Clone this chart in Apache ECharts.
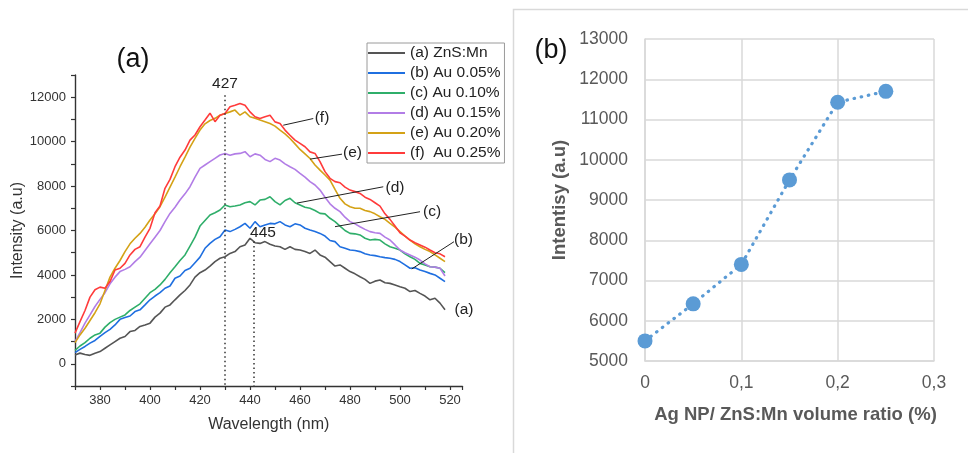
<!DOCTYPE html>
<html><head><meta charset="utf-8">
<script src="https://cdn.jsdelivr.net/npm/echarts@6/dist/echarts.min.js"></script>
<style>html,body{margin:0;padding:0;background:#fff}#c{width:968px;height:453px}</style>
</head><body><div id="c"></div>
<script>
// ---------- Panel (a): PL spectra ----------
const wavelength = [
  370,372,374,376,378,380,382,384,386,388,
  390,392,394,396,398,400,402,404,406,408,
  410,412,414,416,418,420,422,424,426,428,
  430,432,434,436,438,440,442,444,446,448,
  450,452,454,456,458,460,462,464,466,468,
  470,472,474,476,478,480,482,484,486,488,
  490,492,494,496,498,500,502,504,506,508,
  510,512,514,516,518];
const seriesNames = ['(a) ZnS:Mn','(b) Au 0.05%','(c) Au 0.10%','(d) Au 0.15%','(e) Au 0.20%','(f)  Au 0.25%'];
const intensityA = [
  400,480,420,380,470,550,700,850,1000,1150,
  1230,1450,1500,1680,1750,1830,2100,2280,2550,2650,
  2880,3100,3300,3550,3900,4100,4220,4400,4600,4750,
  4820,4970,5050,5270,5350,5650,5450,5420,5500,5380,
  5300,5270,5150,5270,5150,5120,5050,4970,5120,4900,
  4800,4600,4400,4450,4300,4150,4050,3920,3800,3620,
  3720,3770,3650,3620,3550,3470,3400,3250,3300,3170,
  3050,2880,2950,2730,2430];
const intensityB = [
  500,650,780,930,1050,1230,1400,1550,1750,2000,
  2080,2150,2350,2430,2650,2880,3050,3200,3400,3500,
  3850,3950,4200,4300,4550,4800,5200,5420,5600,5720,
  6020,5950,6050,6170,6320,6100,6400,6170,6250,6320,
  6300,6400,6250,6170,6300,6250,6100,6020,5950,5870,
  5750,5550,5500,5270,5200,5120,5100,5050,4950,4900,
  4870,4820,4780,4750,4700,4600,4450,4300,4320,4220,
  4150,4070,4000,3850,3700];
const intensityC = [
  600,800,950,1150,1300,1380,1650,1850,2000,2100,
  2200,2400,2550,2700,2950,3200,3350,3550,3800,4100,
  4370,4650,4900,5300,5700,6200,6450,6700,6800,6920,
  7150,7070,7100,7150,7250,7300,7150,7370,7400,7520,
  7300,7150,7350,7450,7250,7150,7050,7000,6900,6770,
  6750,6550,6400,6200,6000,5870,5850,5800,5650,5570,
  5600,5570,5400,5270,5200,5120,4950,4820,4700,4520,
  4450,4370,4350,4300,4100];
const intensityD = [
  1000,1400,1830,2200,2580,2900,3200,3600,3900,4150,
  4250,4370,4600,4800,5100,5400,5700,6000,6400,6770,
  7050,7370,7650,7970,8400,8800,8950,9100,9250,9400,
  9470,9390,9450,9470,9550,9320,9450,9390,9200,9100,
  9250,9170,9000,8870,8750,8570,8400,8200,8050,7820,
  7500,7200,7000,6850,6600,6400,6300,6170,6050,5950,
  5900,5870,5700,5570,5350,5120,5000,4900,4800,4670,
  4500,4370,4350,4300,3950];
const intensityE = [
  950,1300,1600,1950,2300,2700,3300,3900,4300,4650,
  5050,5400,5650,5870,6150,6470,6750,7070,7500,7950,
  8400,8870,9300,9750,10150,10520,10800,10950,11050,11190,
  11270,11340,11420,11190,11340,11120,11050,10970,10900,10820,
  10700,10520,10350,10140,9900,9650,9450,9240,8950,8720,
  8500,8270,7850,7450,7200,7070,7000,7000,6900,6850,
  6750,6620,6500,6320,6150,5950,5750,5570,5400,5270,
  5150,5050,4900,4750,4600];
const intensityF = [
  1380,1900,2400,3000,3330,3450,3400,3700,4220,4300,
  4520,4900,5150,5270,5700,6100,6800,7100,7900,8300,
  8870,9300,9620,10070,10300,10670,10970,11280,10900,11190,
  11270,11570,11640,11720,11640,11340,11120,11040,11120,11190,
  10890,10820,10520,10290,10070,9920,9770,9540,9470,9100,
  8650,8350,8200,8150,7950,7820,7750,7670,7500,7400,
  7250,7100,6750,6500,6200,5900,5750,5570,5450,5350,
  5250,5120,5000,4950,4820];
const seriesColors = ['#555555','#1f6fe0','#2fae6a','#b27de6','#d4a216','#ff3b3b'];

// ---------- Panel (b): peak intensity ----------
const volumeRatio = [0, 0.05, 0.1, 0.15, 0.2, 0.25];
const peakIntensity = [5500, 6420, 7400, 9500, 11430, 11700];

const FONT = '"Liberation Sans", Arial, sans-serif';
const allA = [intensityA, intensityB, intensityC, intensityD, intensityE, intensityF];

const chart = echarts.init(document.getElementById('c'), null, {renderer: 'canvas'});

const lineSeries = allA.map((arr, k) => ({
  name: seriesNames[k],
  type: 'line',
  xAxisIndex: 0, yAxisIndex: 0,
  data: wavelength.map((w, i) => [w, arr[i]]),
  symbol: 'none',
  lineStyle: {color: seriesColors[k], width: 1.6},
  itemStyle: {color: seriesColors[k]},
  animation: false,
  z: 2 + k
}));

chart.setOption({
  animation: false,
  backgroundColor: '#ffffff',
  textStyle: {fontFamily: FONT},
  grid: [
    {left: 75, top: 75, width: 387.5, height: 311},
    {left: 645, top: 39, width: 289, height: 322}
  ],
  xAxis: [
    {
      type: 'value', gridIndex: 0, min: 370, max: 525, interval: 10,
      axisLine: {show: true, onZero: false, lineStyle: {color: '#333', width: 1.4}},
      axisTick: {show: true, inside: false, length: 4, lineStyle: {color: '#333', width: 1.2}},
      axisLabel: {color: '#333', fontSize: 13, fontFamily: FONT, margin: 8,
        formatter: v => (v % 20 === 0 ? String(v) : '')},
      splitLine: {show: false},
      name: 'Wavelength (nm)', nameLocation: 'middle', nameGap: 31,
      nameTextStyle: {color: '#333', fontSize: 16, fontFamily: FONT}
    },
    {
      type: 'value', gridIndex: 1, min: 0, max: 0.3, interval: 0.1,
      axisLine: {show: true, onZero: false, lineStyle: {color: '#d9d9d9', width: 1.5}},
      axisTick: {show: false},
      axisLabel: {color: '#595959', fontSize: 17.5, fontFamily: FONT, margin: 13,
        formatter: v => (v === 0 ? '0' : v.toFixed(1).replace('.', ','))},
      splitLine: {show: true, lineStyle: {color: '#d9d9d9', width: 1.5}},
      name: 'Ag NP/ ZnS:Mn volume ratio (%)', nameLocation: 'middle', nameGap: 44,
      nameTextStyle: {color: '#595959', fontSize: 18.5, fontWeight: 'bold', fontFamily: FONT, padding: [0, 0, 0, 12]}
    }
  ],
  yAxis: [
    {
      type: 'value', gridIndex: 0, min: -1000, max: 13000, interval: 1000,
      axisLine: {show: true, onZero: false, lineStyle: {color: '#333', width: 1.4}},
      axisTick: {show: true, inside: false, length: 4, lineStyle: {color: '#333', width: 1.2}},
      axisLabel: {color: '#333', fontSize: 13, fontFamily: FONT, margin: 9,
        formatter: v => (v % 2000 === 0 ? String(v) : '')},
      splitLine: {show: false},
      name: 'Intensity (a.u)', nameLocation: 'middle', nameGap: 45, nameRotate: 90,
      nameTextStyle: {color: '#333', fontSize: 16, fontFamily: FONT}
    },
    {
      type: 'value', gridIndex: 1, min: 5000, max: 13000, interval: 1000,
      axisLine: {show: true, lineStyle: {color: '#d9d9d9', width: 1.5}},
      axisTick: {show: false},
      axisLabel: {color: '#595959', fontSize: 17.5, fontFamily: FONT, margin: 17,
        formatter: v => String(v)},
      splitLine: {show: true, lineStyle: {color: '#d9d9d9', width: 1.5}},
      name: 'Intentisy (a.u)', nameLocation: 'middle', nameGap: 76, nameRotate: 90,
      nameTextStyle: {color: '#595959', fontSize: 18.5, fontWeight: 'bold', fontFamily: FONT}
    }
  ],
  legend: {
    data: seriesNames.map(n => ({name: n, icon: 'rect'})),
    orient: 'vertical', left: 367, top: 43,
    itemWidth: 37, itemHeight: 2, itemGap: 4,
    padding: [2, 4, 2, 1],
    borderColor: '#9a9a9a', borderWidth: 1, backgroundColor: '#fff',
    textStyle: {color: '#222', fontSize: 15.5, fontFamily: FONT, lineHeight: 16},
    selectedMode: false
  },
  series: lineSeries.concat([{
    name: 'peak', type: 'line', xAxisIndex: 1, yAxisIndex: 1,
    data: volumeRatio.map((r, i) => [r, peakIntensity[i]]),
    symbol: 'circle', symbolSize: 15,
    itemStyle: {color: '#5b9bd5'},
    lineStyle: {color: '#5b9bd5', width: 3.2, type: [0.5, 6.8], cap: 'round'},
    z: 5
  }])
});

// ---------- annotations (positioned via the chart's own scales) ----------
const P = (x, y) => chart.convertToPixel({gridIndex: 0}, [x, y]);
const peakMarks = [
  {label: '427', at: 430, top: 12090, labelPos: [430, 12628]},
  {label: '445', at: 441.6, top: 5500, labelPos: [445.2, 5890]}
];
const curveTags = [
  {tag: '(f)', from: [453.3, 10740], to: [465.3, 11040], pos: [468.8, 11055]},
  {tag: '(e)', from: [464.0, 9213], to: [476.8, 9437], pos: [481.0, 9505]},
  {tag: '(d)', from: [458.8, 7235], to: [493.3, 7968], pos: [498.0, 7909]},
  {tag: '(c)', from: [474.0, 6172], to: [508.0, 6845], pos: [512.8, 6845]},
  {tag: '(b)', from: [504.7, 4269], to: [521.6, 5496], pos: [525.4, 5595]},
  {tag: '(a)', from: null, to: null, pos: [525.6, 2427]}
];
const g = [];
peakMarks.forEach(m => {
  const a = P(m.at, m.top), b = P(m.at, -1000), l = P(m.labelPos[0], m.labelPos[1]);
  g.push({type: 'line', shape: {x1: a[0], y1: a[1], x2: b[0], y2: b[1]},
    style: {stroke: '#333', lineWidth: 1.5, lineDash: [1.5, 3]}, z: 10});
  g.push({type: 'text', style: {text: m.label, x: l[0], y: l[1], align: 'center', verticalAlign: 'middle',
    fontSize: 15.5, fontFamily: FONT, fill: '#222'}, z: 11});
});
curveTags.forEach(t => {
  if (t.from) {
    const a = P(t.from[0], t.from[1]), b = P(t.to[0], t.to[1]);
    g.push({type: 'line', shape: {x1: a[0], y1: a[1], x2: b[0], y2: b[1]},
      style: {stroke: '#222', lineWidth: 1}, z: 10});
  }
  const l = P(t.pos[0], t.pos[1]);
  g.push({type: 'text', style: {text: t.tag, x: l[0], y: l[1], align: 'center', verticalAlign: 'middle',
    fontSize: 15.5, fontFamily: FONT, fill: '#222'}, z: 11});
});
// panel labels and frame of panel (b)
g.push({type: 'text', style: {text: '(a)', x: 133, y: 60, align: 'center', verticalAlign: 'middle',
  fontSize: 27, fontFamily: FONT, fill: '#111'}, z: 11});
g.push({type: 'text', style: {text: '(b)', x: 551, y: 51, align: 'center', verticalAlign: 'middle',
  fontSize: 27, fontFamily: FONT, fill: '#111'}, z: 11});
g.push({type: 'rect', shape: {x: 513.5, y: 9.5, width: 480, height: 470},
  style: {fill: 'none', stroke: '#d9d9d9', lineWidth: 1.5}, z: 0, silent: true});
chart.setOption({graphic: g});
</script>
</body></html>
